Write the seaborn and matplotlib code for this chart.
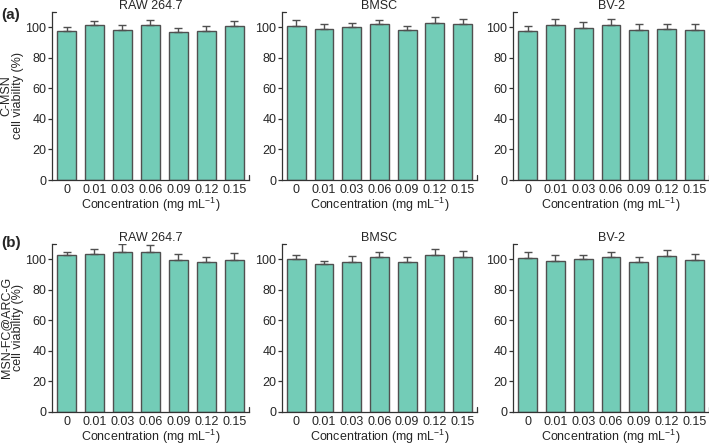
import numpy as np
import pandas as pd
import seaborn as sns
import matplotlib.pyplot as plt

# concentrations (mg/mL)
conc = ["0", "0.01", "0.03", "0.06", "0.09", "0.12", "0.15"]
cells = ["RAW 264.7", "BMSC", "BV-2"]

# (a) C-MSN: mean viability and upper error
a_raw = [97.4, 101.3, 98.0, 101.3, 96.7, 97.4, 100.4]
a_raw_err = [2.6, 2.7, 3.3, 3.1, 2.9, 3.0, 3.6]
a_bmsc = [100.4, 98.7, 99.8, 102.0, 97.8, 102.6, 102.0]
a_bmsc_err = [4.0, 3.3, 2.8, 2.4, 3.2, 3.7, 3.0]
a_bv2 = [97.4, 101.3, 99.3, 101.3, 97.8, 98.5, 97.8]
a_bv2_err = [3.0, 3.9, 3.7, 3.7, 3.9, 3.2, 3.9]

# (b) MSN-FC@ARC-G
b_raw = [102.8, 103.3, 104.8, 104.8, 99.3, 98.3, 99.1]
b_raw_err = [1.8, 3.3, 4.8, 4.2, 4.2, 3.2, 4.6]
b_bmsc = [100.2, 96.5, 97.8, 101.1, 98.0, 102.8, 101.5]
b_bmsc_err = [2.6, 2.2, 4.2, 3.3, 3.5, 4.0, 3.5]
b_bv2 = [100.7, 98.9, 100.2, 101.1, 98.0, 102.0, 99.3]
b_bv2_err = [4.1, 3.5, 2.6, 3.5, 3.5, 3.7, 3.7]

rows = [
    ("C-MSN\ncell viability (%)", [(a_raw, a_raw_err), (a_bmsc, a_bmsc_err), (a_bv2, a_bv2_err)]),
    ("MSN-FC@ARC-G\ncell viability (%)", [(b_raw, b_raw_err), (b_bmsc, b_bmsc_err), (b_bv2, b_bv2_err)]),
]

sns.set_style("ticks")
plt.rcParams["font.family"] = ["Liberation Sans", "DejaVu Sans"]
plt.rcParams["mathtext.fontset"] = "custom"
plt.rcParams["mathtext.rm"] = "Liberation Sans"
plt.rcParams["mathtext.default"] = "regular"

bar_color = "#73ccb7"
edge = "#505050"
fs = 9

fig = plt.figure(figsize=(7.09, 4.45), dpi=100)
lefts = [0.0733, 0.3977, 0.7236]
widths = [0.2778, 0.2750, 0.2764]
bottoms = [0.5955, 0.0742]
h = 0.378

for r, (ylab, panels) in enumerate(rows):
    for c, (vals, errs) in enumerate(panels):
        ax = fig.add_axes([lefts[c], bottoms[r], widths[c], h])
        df = pd.DataFrame({"conc": conc, "viab": vals})
        sns.barplot(data=df, x="conc", y="viab", order=conc, color=bar_color,
                    edgecolor=edge, linewidth=1.0, width=0.68, saturation=1,
                    errorbar=None, ax=ax)
        ax.errorbar(np.arange(len(conc)), vals, yerr=[np.zeros(len(errs)), errs],
                    fmt="none", ecolor=edge, elinewidth=1.0, capsize=3, capthick=1.0,
                    zorder=1)
        ax.set_ylim(0, 110)
        ax.set_xlim(-0.52, 6.52)
        ax.set_yticks(range(0, 101, 20))
        ax.tick_params(axis="y", length=3, width=0.9, labelsize=fs, pad=1, color="#333333")
        ax.tick_params(axis="x", length=0, labelsize=fs, pad=3)
        for s in ["top", "right"]:
            ax.spines[s].set_visible(False)
        for s in ["left", "bottom"]:
            ax.spines[s].set_linewidth(0.9)
            ax.spines[s].set_color("#333333")
        # little end stubs on the axis lines
        ax.plot([0, 0.02], [1, 1], transform=ax.transAxes, color="#333333", lw=0.9, clip_on=False)
        ax.plot([1, 1], [0, 0.03], transform=ax.transAxes, color="#333333", lw=0.9, clip_on=False)
        ax.set_title(cells[c], fontsize=fs, pad=2)
        ax.set_xlabel("Concentration (mg mL$^{-1}$)", fontsize=fs, labelpad=0)
        if c == 0:
            ax.set_ylabel(ylab, fontsize=fs, linespacing=1.0)
            ax.yaxis.set_label_coords(-0.142, 0.5)
        else:
            ax.set_ylabel("")

fig.text(0.002, 0.966, "(a)", fontsize=11, fontweight="bold", va="center")
fig.text(0.002, 0.455, "(b)", fontsize=11, fontweight="bold", va="center")

plt.savefig("out.png", dpi=100)
